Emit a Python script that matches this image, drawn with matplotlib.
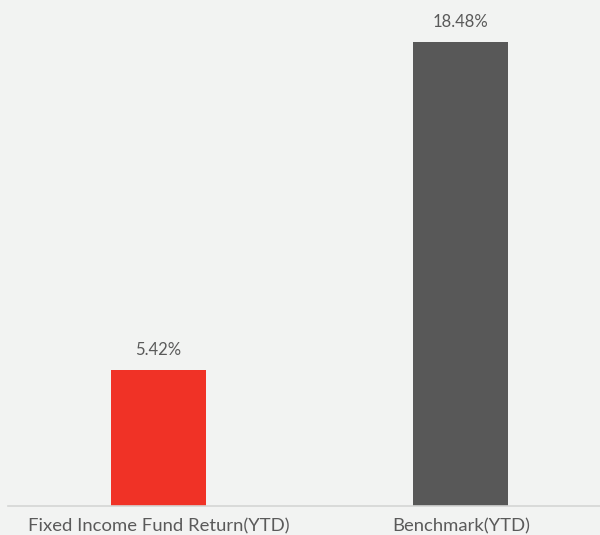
import matplotlib.pyplot as plt

categories = ['Fixed Income Fund Return(YTD)', 'Benchmark(YTD)']
values = [5.42, 18.48]
colors = ['#f03226', '#585858']

bg = '#f2f3f2'
txt = '#5a5a5a'

fig = plt.figure(figsize=(6, 5.35), dpi=100, facecolor=bg)
ax = fig.add_axes([8 / 600, 29 / 535, 592 / 600, 506 / 535], facecolor=bg)

x = list(range(len(categories)))
bars = ax.bar(x, values, width=0.314, color=colors)

for b, v in zip(bars, values):
    ax.annotate(f'{v:.2f}%', (b.get_x() + b.get_width() / 2, v),
                xytext=(0, 9), textcoords='offset points',
                ha='center', va='bottom', fontsize=12, color=txt,
                family='Lato')

ax.set_xlim(-0.4975, 1.46)
ax.set_ylim(0, 20.17)
ax.set_xticks(x)
ax.set_xticklabels(categories, fontsize=13.3, color=txt, family='Lato')
ax.tick_params(axis='x', length=0, pad=9)
ax.set_yticks([])
for s in ['top', 'right', 'left']:
    ax.spines[s].set_visible(False)
ax.spines['bottom'].set_color('#d4d6d4')
ax.spines['bottom'].set_linewidth(1.2)

fig.savefig('out.png', dpi=100, facecolor=bg)
